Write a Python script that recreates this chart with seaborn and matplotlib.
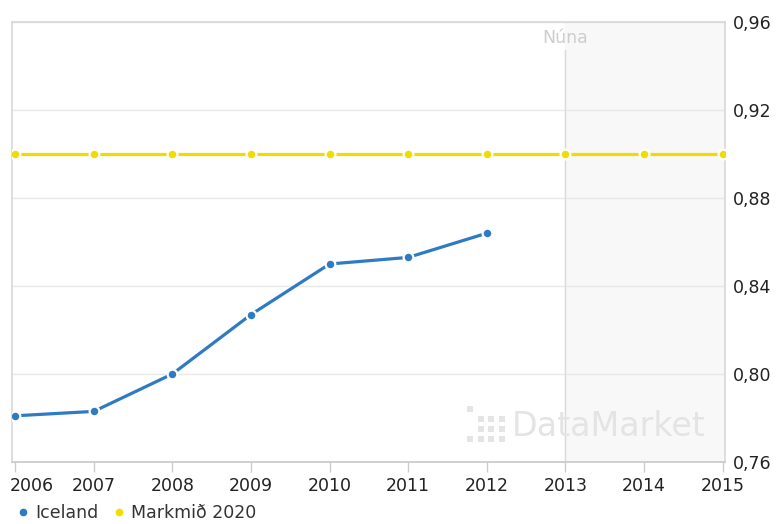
import matplotlib
matplotlib.use('Agg')
import matplotlib.pyplot as plt
from matplotlib.lines import Line2D
from matplotlib.patches import Rectangle
from matplotlib.ticker import FuncFormatter
import matplotlib.transforms as mtransforms
import pandas as pd
import seaborn as sns

# data
iceland_years = [2006, 2007, 2008, 2009, 2010, 2011, 2012]
iceland_values = [0.781, 0.783, 0.800, 0.827, 0.850, 0.853, 0.864]
target_years = [2006, 2007, 2008, 2009, 2010, 2011, 2012, 2013, 2014, 2015]
target_values = [0.90] * len(target_years)
now_year = 2013
y_ticks = [0.76, 0.80, 0.84, 0.88, 0.92, 0.96]

BLUE = '#2e7bc4'
YELLOW = '#f2dc00'
FS = 12.5

sns.set_theme(style='white')
plt.rcParams['font.family'] = ['DejaVu Sans']

W, H = 779, 524
fig = plt.figure(figsize=(W / 100, H / 100), dpi=100)
ax = fig.add_axes([12 / W, 1 - 462 / H, 713 / W, 440 / H])

# shaded "future" area and the "now" line
ax.axvspan(now_year, 2015.03, color='#f8f8f8', zorder=0)
ax.plot([now_year, now_year], [0.76, 0.9473], color='#d9d9d9', lw=1, zorder=1)
ax.text(now_year, 0.9527, 'Núna', ha='center', va='center', fontsize=FS, color='#cdcdcd')

df_ice = pd.DataFrame({'year': iceland_years, 'value': iceland_values})
df_target = pd.DataFrame({'year': target_years, 'value': target_values})

line_kw = dict(marker='o', markersize=7, markeredgecolor='white', markeredgewidth=1.6,
               linewidth=2.3, zorder=3)
sns.lineplot(data=df_target, x='year', y='value', color=YELLOW, ax=ax, **line_kw)
sns.lineplot(data=df_ice, x='year', y='value', color=BLUE, ax=ax, **line_kw)

# watermark (logo dots + name)
wm = '#e4e4e4'
fig.text(512 / W, 1 - 427 / H, 'DataMarket', ha='left', va='center', fontsize=24, color=wm)
logo = [(0, 0), (1, 1), (2, 1), (3, 1), (1, 2), (2, 2), (3, 2), (0, 3), (1, 3), (2, 3), (3, 3)]
for cx, cy in logo:
    fig.add_artist(Rectangle(((467 + cx * 10.5) / W, 1 - (412 + cy * 10) / H), 6 / W, 6 / H,
                             transform=fig.transFigure, color=wm, lw=0))

ax.set_xlim(2005.96, 2015.03)
ax.set_ylim(0.76, 0.96)
ax.set_xticks(target_years)
ax.set_yticks(y_ticks)
ax.yaxis.tick_right()
ax.yaxis.set_major_formatter(FuncFormatter(lambda v, p: f'{v:.2f}'.replace('.', ',')))
ax.set_xlabel('')
ax.set_ylabel('')
ax.grid(axis='y', color='#e8e8e8', lw=1)
ax.grid(axis='x', visible=False)
ax.tick_params(axis='y', length=0, pad=6, labelsize=FS, labelcolor='#222222')
ax.tick_params(axis='x', length=7, width=1, color='#cccccc', pad=4, labelsize=FS,
               labelcolor='#222222', bottom=True)
for side in ['left', 'top', 'right']:
    ax.spines[side].set_color('#d8d8d8')
    ax.spines[side].set_linewidth(1.2)
ax.spines['bottom'].set_color('#c8c8c8')
ax.spines['bottom'].set_linewidth(1.2)

# keep the first year label inside the figure
first = ax.get_xticklabels()[0]
first.set_transform(first.get_transform() + mtransforms.ScaledTranslation(17 / 100, 0, fig.dpi_scale_trans))

handles = [
    Line2D([], [], marker='o', linestyle='', color=BLUE, markersize=4.5),
    Line2D([], [], marker='o', linestyle='', color=YELLOW, markersize=4.5),
]
fig.legend(handles, ['Iceland', 'Markmið 2020'], loc='center left', bbox_to_anchor=(6 / W, 1 - 513 / H),
           ncol=2, frameon=False, fontsize=FS, handlelength=0.6, handletextpad=0.4,
           columnspacing=0.85, labelcolor='#333333', borderpad=0.2)

fig.savefig('out.png', dpi=100)
